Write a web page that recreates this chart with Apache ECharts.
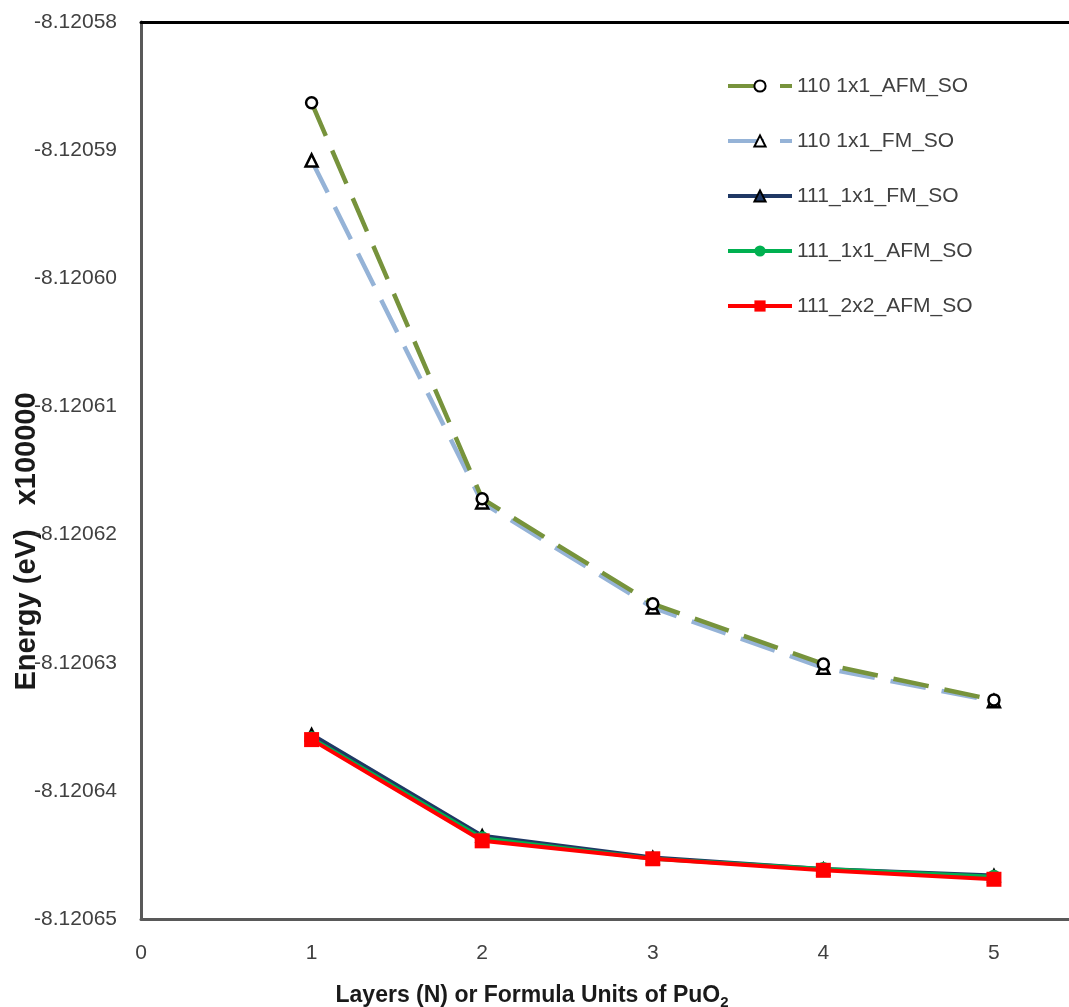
<!DOCTYPE html>
<html>
<head>
<meta charset="utf-8">
<script src="https://cdn.jsdelivr.net/npm/echarts@6/dist/echarts.min.js"></script>
<style>html,body{margin:0;padding:0;background:#fff}#c{width:1069px;height:1007px}</style>
</head>
<body>
<div id="c"></div>
<script>
const layers = [1, 2, 3, 4, 5];
const afm110 = [-8.1205863, -8.1206172, -8.1206254, -8.1206301, -8.1206329];
const fm110 = [-8.1205908, -8.1206175, -8.1206257, -8.1206304, -8.1206330];
const fm111 = [-8.1206356, -8.1206435, -8.1206452, -8.1206461, -8.1206466];
const afm111 = [-8.1206359, -8.1206437, -8.1206453, -8.1206461, -8.1206467];
const afm111_2x2 = [-8.1206360, -8.1206439, -8.1206453, -8.1206462, -8.1206469];
const seriesNames = ['110 1x1_AFM_SO', '110 1x1_FM_SO', '111_1x1_FM_SO', '111_1x1_AFM_SO', '111_2x2_AFM_SO'];

function pts(arr) { return layers.map((x, i) => [x, arr[i]]); }

const chart = echarts.init(document.getElementById('c'));
const font = 'Liberation Sans, Arial, sans-serif';
const xMax = 5.44;
chart.setOption({
  animation: false,
  backgroundColor: '#fff',
  grid: { left: 141, top: 22, bottom: 88, right: 0, show: false, containLabel: false, outerBoundsMode: 'none' },
  legend: {
    orient: 'vertical',
    left: 726, top: 74, padding: 0,
    itemWidth: 64, itemHeight: 14, itemGap: 31,
    lineStyle: { width: 4 },
    textStyle: { fontFamily: font, fontSize: 21, lineHeight: 24, color: '#404040' },
    data: seriesNames
  },
  xAxis: [{
    type: 'value', min: 0, max: xMax, interval: 1,
    axisLine: { show: true, onZero: false, lineStyle: { color: '#595959', width: 3 } },
    axisTick: { show: false },
    splitLine: { show: false },
    axisLabel: { fontFamily: font, fontSize: 21, color: '#404040', margin: 24, showMaxLabel: false,
      formatter: v => (Math.abs(v - Math.round(v)) < 1e-9 ? String(Math.round(v)) : '') },
    name: '{a|Layers (N) or Formula Units of PuO}{s|2}',
    nameLocation: 'middle', nameGap: 62, nameMoveOverlap: false,
    nameTextStyle: {
      padding: [0, 146, 0, 0],
      rich: {
        a: { fontFamily: font, fontSize: 23, fontWeight: 'bold', color: '#1a1a1a' },
        s: { fontFamily: font, fontSize: 15, fontWeight: 'bold', color: '#1a1a1a', verticalAlign: 'bottom', padding: [14, 0, 0, 0] }
      }
    }
  }, {
    type: 'value', min: 0, max: xMax, position: 'top',
    axisLine: { show: true, onZero: false, lineStyle: { color: '#000', width: 3 } },
    axisTick: { show: false }, axisLabel: { show: false }, splitLine: { show: false }
  }],
  yAxis: {
    type: 'value', min: -8.12065, max: -8.12058, interval: 0.00001,
    axisLine: { show: true, lineStyle: { color: '#595959', width: 3 } },
    axisTick: { show: false },
    splitLine: { show: false },
    axisLabel: { fontFamily: font, fontSize: 21, color: '#404040', margin: 24, formatter: v => v.toFixed(5) },
    name: 'Energy (eV)   x100000',
    nameLocation: 'middle', nameGap: 100, nameRotate: 90, nameMoveOverlap: false,
    nameTextStyle: { fontFamily: font, fontSize: 29, fontWeight: 'bold', color: '#1a1a1a', padding: [0, 142, 0, 0] }
  },
  series: [
    {
      name: seriesNames[0], type: 'line', data: pts(afm110),
      symbol: 'circle', symbolSize: 11,
      lineStyle: { color: '#77933C', width: 4.5, type: [36, 16] },
      itemStyle: { color: '#fff', borderColor: '#000', borderWidth: 2.5 },
      z: 3
    },
    {
      name: seriesNames[1], type: 'line', data: pts(fm110),
      symbol: 'triangle', symbolSize: 12,
      lineStyle: { color: '#95B3D7', width: 4.5, type: [36, 16] },
      itemStyle: { color: '#fff', borderColor: '#000', borderWidth: 2.5 },
      z: 2
    },
    {
      name: seriesNames[2], type: 'line', data: pts(fm111),
      symbol: 'triangle', symbolSize: 12,
      lineStyle: { color: '#1F3864', width: 4 },
      itemStyle: { color: '#1F3864', borderColor: '#000', borderWidth: 2 },
      z: 2
    },
    {
      name: seriesNames[3], type: 'line', data: pts(afm111),
      symbol: 'circle', symbolSize: 14,
      lineStyle: { color: '#00B050', width: 4 },
      itemStyle: { color: '#00B050', borderWidth: 0 },
      z: 3
    },
    {
      name: seriesNames[4], type: 'line', data: pts(afm111_2x2),
      symbol: 'rect', symbolSize: 15,
      lineStyle: { color: '#FF0000', width: 4 },
      itemStyle: { color: '#FF0000', borderWidth: 0 },
      z: 4
    }
  ]
});
</script>
</body>
</html>
